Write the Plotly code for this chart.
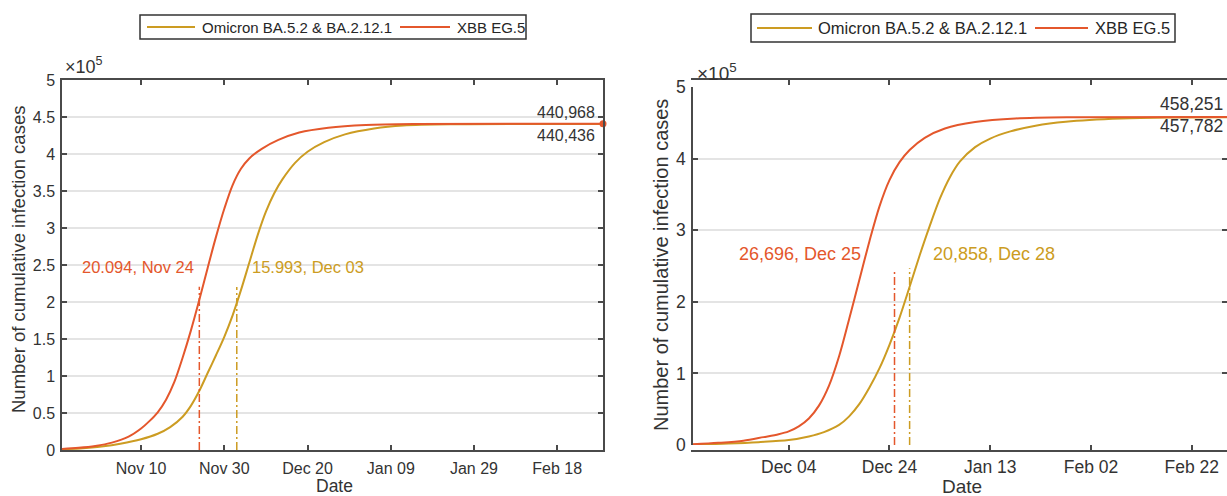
import plotly.graph_objects as go

W, H = 1227, 496

RED = "#E4572C"
GOLD = "#CC9C22"
AXIS = "#4a4a4a"
TEXT = "#333333"
GRID = "#e4e4e4"
FONT = "Arial, Liberation Sans, sans-serif"

SERIES_NAMES = ["Omicron BA.5.2 & BA.2.12.1", "XBB EG.5"]

# ---------------- left panel ----------------
left_xbb_dates = ["2023-10-22", "2023-10-26", "2023-10-30", "2023-11-03", "2023-11-07",
                  "2023-11-10", "2023-11-12", "2023-11-14", "2023-11-16", "2023-11-18",
                  "2023-11-20", "2023-11-22", "2023-11-24", "2023-11-26", "2023-11-28",
                  "2023-11-30", "2023-12-02", "2023-12-04", "2023-12-06", "2023-12-09",
                  "2023-12-13", "2023-12-18", "2023-12-25", "2024-01-03", "2024-01-15",
                  "2024-02-29"]
left_xbb_cases = [1500, 3000, 5500, 10000, 18000,
                  29000, 39000, 51000, 68000, 92000,
                  125000, 162000, 203000, 246000, 288000,
                  326000, 358000, 380000, 394000, 407000,
                  419000, 429000, 435500, 439200, 440600,
                  440968]

left_omi_dates = ["2023-10-22", "2023-10-27", "2023-11-01", "2023-11-05", "2023-11-10",
                  "2023-11-14", "2023-11-17", "2023-11-20", "2023-11-22", "2023-11-24",
                  "2023-11-26", "2023-11-28", "2023-11-30", "2023-12-02", "2023-12-04",
                  "2023-12-06", "2023-12-08", "2023-12-10", "2023-12-12", "2023-12-14",
                  "2023-12-17", "2023-12-20", "2023-12-24", "2023-12-29", "2024-01-05",
                  "2024-01-12", "2024-01-25", "2024-02-29"]
left_omi_cases = [1000, 2500, 5000, 8500, 14500,
                  22000, 31000, 45000, 60000, 80000,
                  104000, 128000, 153000, 182000, 216000,
                  253000, 290000, 322000, 347000, 366000,
                  388000, 403000, 416000, 426500, 434500,
                  438500, 440200, 440436]

left_ticks = ["2023-11-10", "2023-11-30", "2023-12-20", "2024-01-09", "2024-01-29", "2024-02-18"]
left_tick_labels = ["Nov 10", "Nov 30", "Dec 20", "Jan 09", "Jan 29", "Feb 18"]
left_range = ["2023-10-22", "2024-02-29"]

# peak markers, ordered [Omicron, XBB]
left_peak_dates = ["2023-12-03", "2023-11-24"]
left_peak_labels = ["15.993, Dec 03", "20.094, Nov 24"]
left_peak_height = [220200, 220500]
left_final_labels = ["440,436", "440,968"]

# ---------------- right panel ----------------
right_xbb_dates = ["2023-11-15", "2023-11-20", "2023-11-25", "2023-11-29", "2023-12-02",
                   "2023-12-04", "2023-12-06", "2023-12-08", "2023-12-10", "2023-12-12",
                   "2023-12-14", "2023-12-16", "2023-12-18", "2023-12-20", "2023-12-22",
                   "2023-12-24", "2023-12-26", "2023-12-28", "2023-12-31", "2024-01-04",
                   "2024-01-10", "2024-01-18", "2024-01-30", "2024-02-29"]
right_xbb_cases = [1000, 3000, 6000, 11000, 15000,
                   19000, 26000, 37000, 55000, 83000,
                   124000, 176000, 230000, 284000, 333000,
                   370000, 395000, 412000, 429000, 442000,
                   451000, 456000, 457800, 458251]

right_omi_dates = ["2023-11-15", "2023-11-22", "2023-11-28", "2023-12-04", "2023-12-08",
                   "2023-12-11", "2023-12-14", "2023-12-16", "2023-12-18", "2023-12-20",
                   "2023-12-22", "2023-12-24", "2023-12-26", "2023-12-28", "2023-12-30",
                   "2024-01-01", "2024-01-03", "2024-01-05", "2024-01-07", "2024-01-10",
                   "2024-01-13", "2024-01-17", "2024-01-22", "2024-01-28", "2024-02-08",
                   "2024-02-18", "2024-02-29"]
right_omi_cases = [500, 2000, 4000, 7000, 12000,
                   18000, 28000, 40000, 57000, 80000,
                   107000, 140000, 178000, 221000, 265000,
                   306000, 344000, 374000, 396000, 416000,
                   428000, 438000, 446000, 451500, 456000,
                   457400, 457782]

right_ticks = ["2023-12-04", "2023-12-24", "2024-01-13", "2024-02-02", "2024-02-22"]
right_tick_labels = ["Dec 04", "Dec 24", "Jan 13", "Feb 02", "Feb 22"]
right_range = ["2023-11-15", "2024-02-29"]

right_peak_dates = ["2023-12-28", "2023-12-25"]
right_peak_labels = ["20,858, Dec 28", "26,696, Dec 25"]
right_peak_height = [247000, 242000]
right_final_labels = ["457,782", "458,251"]

y_ticks_left = [i * 50000 for i in range(11)]
y_tick_labels_left = ["0", "0.5", "1", "1.5", "2", "2.5", "3", "3.5", "4", "4.5", "5"]
y_ticks_right = [i * 100000 for i in range(6)]
y_tick_labels_right = ["0", "1", "2", "3", "4", "5"]


def px_x(p):
    return p / W


def px_y(p):
    return 1 - p / H


fig = go.Figure()

panels = [
    dict(xa="x", ya="y",
         series=[(left_omi_dates, left_omi_cases), (left_xbb_dates, left_xbb_cases)],
         peaks=(left_peak_dates, left_peak_height)),
    dict(xa="x2", ya="y2",
         series=[(right_omi_dates, right_omi_cases), (right_xbb_dates, right_xbb_cases)],
         peaks=(right_peak_dates, right_peak_height)),
]

for p in panels:
    for (dates, cases), name, color in zip(p["series"], SERIES_NAMES, [GOLD, RED]):
        fig.add_trace(go.Scatter(
            x=dates, y=cases, name=name, mode="lines", showlegend=False,
            line=dict(color=color, width=2, shape="spline", smoothing=0.9),
            xaxis=p["xa"], yaxis=p["ya"],
        ))
    for d, h, color in zip(p["peaks"][0], p["peaks"][1], [GOLD, RED]):
        fig.add_trace(go.Scatter(
            x=[d, d], y=[0, h], mode="lines", showlegend=False,
            line=dict(color=color, width=1.5, dash="8px,3px,2px,3px"),
            xaxis=p["xa"], yaxis=p["ya"],
        ))

# end point of the XBB curve on the left panel
fig.add_trace(go.Scatter(
    x=[left_xbb_dates[-1]], y=[left_xbb_cases[-1]], mode="markers", showlegend=False,
    marker=dict(color=RED, size=7), xaxis="x", yaxis="y", cliponaxis=False,
))


def xaxis_cfg(domain, rng, ticks, labels, size, standoff):
    return dict(domain=domain, type="date", range=rng, tickmode="array",
                tickvals=ticks, ticktext=labels, ticks="inside", ticklen=5,
                tickwidth=1.5, tickcolor=AXIS, showline=True, linecolor=AXIS,
                linewidth=1.5, mirror="ticks", showgrid=False, zeroline=False,
                tickfont=dict(size=size, color=TEXT, family=FONT),
                ticklabelstandoff=standoff, automargin=False, fixedrange=True)


def yaxis_cfg(domain, ticks, labels, size, anchor):
    return dict(domain=domain, range=[0, 500000], tickmode="array",
                tickvals=ticks, ticktext=labels, ticks="inside", ticklen=5,
                tickwidth=1.5, tickcolor=AXIS, showline=True, linecolor=AXIS,
                linewidth=1.5, mirror="ticks", showgrid=True, gridcolor=GRID,
                gridwidth=2, zeroline=False, anchor=anchor,
                tickfont=dict(size=size, color=TEXT, family=FONT),
                ticklabelstandoff=2, automargin=False, fixedrange=True)


fig.update_layout(
    width=W, height=H, autosize=False,
    margin=dict(l=0, r=0, t=0, b=0),
    paper_bgcolor="white", plot_bgcolor="white",
    font=dict(family=FONT, color=TEXT),
    xaxis=xaxis_cfg([px_x(62), px_x(603)], left_range, left_ticks, left_tick_labels, 16, 3),
    yaxis=yaxis_cfg([px_y(450), px_y(80)], y_ticks_left, y_tick_labels_left, 16, "x"),
    xaxis2=xaxis_cfg([px_x(693), px_x(1227)], right_range, right_ticks, right_tick_labels, 17.5, 0),
    yaxis2=yaxis_cfg([px_y(445), px_y(87)], y_ticks_right, y_tick_labels_right, 17.5, "x2"),
    showlegend=False,
)

shapes = []
ann = []

# legend boxes: box extent, line samples and label positions (pixels)
legend_boxes = [
    dict(box=(140, 15, 526, 39), size=15,
         items=[(147, 195, 200), (400, 450, 455)]),
    dict(box=(751, 14, 1175, 42), size=16.5,
         items=[(757, 812, 816), (1035, 1088, 1093)]),
]
for lg in legend_boxes:
    x0, y0, x1, y1 = lg["box"]
    cy = (y0 + y1) / 2
    shapes.append(dict(type="rect", xref="paper", yref="paper",
                       x0=px_x(x0), x1=px_x(x1), y0=px_y(y1), y1=px_y(y0),
                       line=dict(color="#333333", width=1.5), fillcolor="white", layer="above"))
    for (lx0, lx1, tx), name, color in zip(lg["items"], SERIES_NAMES, [GOLD, RED]):
        shapes.append(dict(type="line", xref="paper", yref="paper",
                           x0=px_x(lx0), x1=px_x(lx1), y0=px_y(cy), y1=px_y(cy),
                           line=dict(color=color, width=2), layer="above"))
        ann.append(dict(text=name, x=px_x(tx), y=px_y(cy), xref="paper", yref="paper",
                        xanchor="left", yanchor="middle", showarrow=False,
                        font=dict(size=lg["size"], color="#262626")))

# exponent labels
ann.append(dict(text="×10<sup>5</sup>", x=px_x(63), y=px_y(79), xref="paper", yref="paper",
                xanchor="left", yanchor="bottom", showarrow=False, font=dict(size=18)))
ann.append(dict(text="×10<sup>5</sup>", x=px_x(695), y=px_y(86), xref="paper", yref="paper",
                xanchor="left", yanchor="bottom", showarrow=False, font=dict(size=19)))
# axis titles
for cx, cy, size in [(334, 486, 17.5), (962, 486, 19)]:
    ann.append(dict(text="Date", x=px_x(cx), y=px_y(cy), xref="paper", yref="paper",
                    xanchor="center", yanchor="middle", showarrow=False, font=dict(size=size)))
for cx, cy, size in [(18, 260, 18.5), (661, 265, 20)]:
    ann.append(dict(text="Number of cumulative infection cases", x=px_x(cx), y=px_y(cy),
                    xref="paper", yref="paper", textangle=-90, xanchor="center",
                    yanchor="middle", showarrow=False, font=dict(size=size)))

# peak labels
peak_text_pos = [
    (left_peak_labels, [(250, 267, "left"), (196, 267, "right")], 16.5),
    (right_peak_labels, [(931, 254, "left"), (863, 254, "right")], 18),
]
for labels, pos, size in peak_text_pos:
    for lab, (px, py, anchor), color in zip(labels, pos, [GOLD, RED]):
        ann.append(dict(text=lab, x=px_x(px), y=px_y(py), xref="paper", yref="paper",
                        xanchor=anchor, yanchor="middle", showarrow=False,
                        font=dict(size=size, color=color)))

# final cumulative values at the right end of each panel
finals = [
    ("x", "y", left_final_labels, [left_omi_dates[-1], left_xbb_dates[-1]],
     [left_omi_cases[-1], left_xbb_cases[-1]], 16, -6, [-11, 11]),
    ("x2", "y2", right_final_labels, [right_omi_dates[-1], right_xbb_dates[-1]],
     [right_omi_cases[-1], right_xbb_cases[-1]], 17.5, -2, [-9, 13]),
]
for xa, ya, labels, xs, ys, size, xs_shift, ys_shift in finals:
    for lab, x, y, dy in zip(labels, xs, ys, ys_shift):
        ann.append(dict(text=lab, x=x, y=y, xref=xa, yref=ya, xanchor="right",
                        yanchor="middle", xshift=xs_shift, yshift=dy, showarrow=False,
                        font=dict(size=size, color=TEXT)))

fig.update_layout(annotations=ann, shapes=shapes)

fig.write_html("out.html")
